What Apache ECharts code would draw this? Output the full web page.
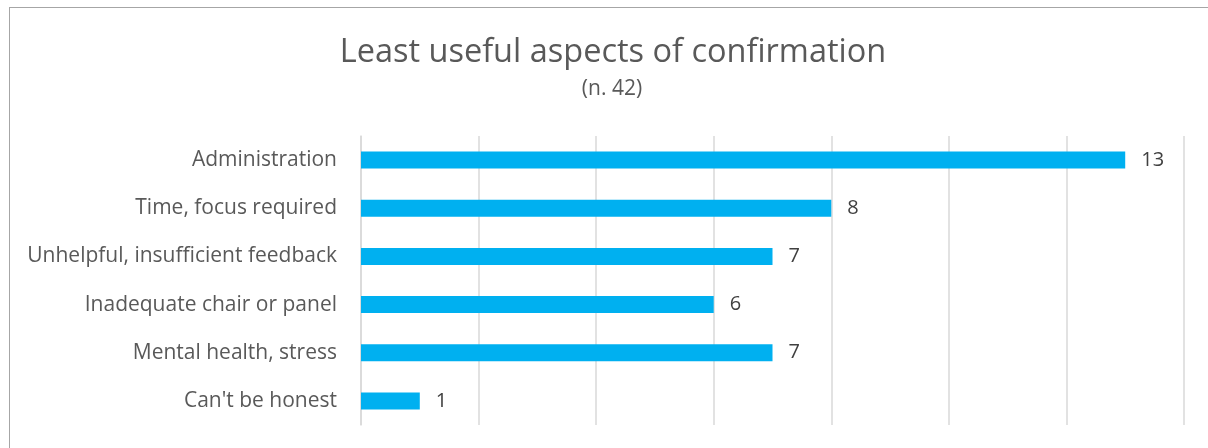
<!DOCTYPE html>
<html>
<head>
<meta charset="utf-8">
<script src="https://cdn.jsdelivr.net/npm/echarts@6/dist/echarts.min.js"></script>
<style>
  html, body { margin: 0; padding: 0; background: #fff; }
  #wrap { position: relative; width: 1208px; height: 448px; overflow: hidden; }
  #frame { position: absolute; left: 9px; top: 7px; width: 1260px; height: 500px;
           border: 1px solid #a6a6a6; box-sizing: border-box; }
  #chart { position: absolute; left: 0; top: 0; width: 1208px; height: 448px; }
</style>
</head>
<body>
<div id="wrap">
  <div id="frame"></div>
  <div id="chart"></div>
</div>
<script>
// Responses per aspect (top to bottom)
const categories = [
  'Administration',
  'Time, focus required',
  'Unhelpful, insufficient feedback',
  'Inadequate chair or panel',
  'Mental health, stress',
  "Can't be honest"
];
const counts = [13, 8, 7, 6, 7, 1];

const titleText = 'Least useful aspects of confirmation';
const subtitleText = '(n. 42)';

const font = '"Open Sans", Lato, sans-serif';
const chart = echarts.init(document.getElementById('chart'));

chart.setOption({
  animation: false,
  title: [{
    text: titleText,
    left: 608,
    textAlign: 'center',
    top: 31,
    textStyle: { fontFamily: font, fontSize: 32.5, fontWeight: 'normal', color: '#595959' }
  }, {
    text: subtitleText,
    left: 607,
    textAlign: 'center',
    top: 74,
    textStyle: { fontFamily: font, fontSize: 21, fontWeight: 'normal', color: '#595959' }
  }],
  grid: { left: 361, right: 24, top: 136, bottom: 23, containLabel: false },
  xAxis: {
    type: 'value',
    min: 0,
    max: 14,
    interval: 2,
    axisLabel: { show: false },
    axisLine: { show: false },
    axisTick: { show: false },
    splitLine: { show: true, lineStyle: { color: '#d9d9d9', width: 1.5 } }
  },
  yAxis: {
    type: 'category',
    data: categories,
    inverse: true,
    axisLine: { show: true, lineStyle: { color: '#d9d9d9', width: 1.5 } },
    axisTick: { show: false },
    axisLabel: { fontFamily: font, fontSize: 21, color: '#595959', margin: 24, padding: [3, 0, 0, 0] }
  },
  series: [{
    type: 'bar',
    data: counts,
    barWidth: 17,
    itemStyle: { color: '#00b0f0' },
    label: {
      show: true,
      position: 'right',
      distance: 16,
      fontFamily: font,
      fontSize: 20,
      color: '#404040'
    }
  }]
});
</script>
</body>
</html>
